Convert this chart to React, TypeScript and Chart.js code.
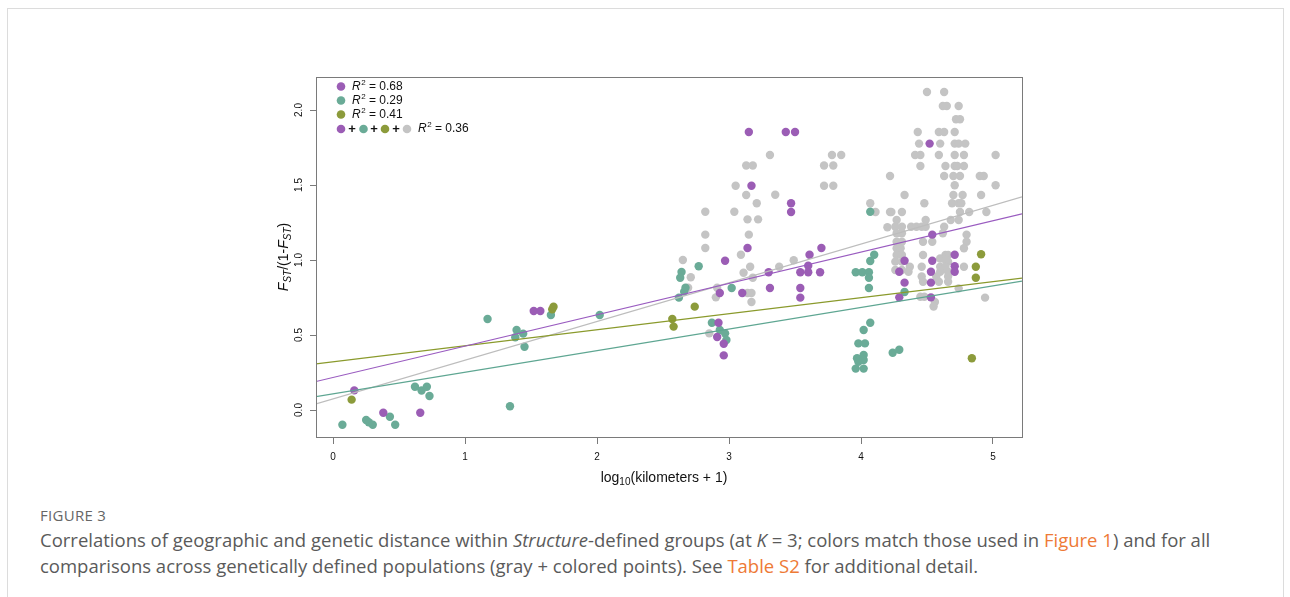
import React, { useEffect, useRef } from "react";
import { Chart, registerables } from "chart.js";
Chart.register(...registerables);

// ---- axis ranges & ticks ----
const xTicks = [0, 1, 2, 3, 4, 5];
const yTicks = [0, 0.5, 1, 1.5, 2];
const xRange = [-0.13, 5.22];
const yRange = [-0.18, 2.22];

// ---- regression lines: [intercept, slope] ----
const purpleFit = [0.217, 0.209];
const tealFit = [0.108, 0.144];
const oliveFit = [0.321, 0.107];
const grayFit = [0.074, 0.258];

// ---- legend ----
const legendLabels = ["0.68", "0.29", "0.41", "0.36"];

// ---- points [x, y] ----
const purplePoints: [number, number][] = [
  [0.16, 0.131], [0.38, -0.018], [0.66, -0.018], [1.52, 0.66], [1.57, 0.66],
  [3.15, 1.853], [3.43, 1.853], [3.5, 1.853], [3.17, 1.495], [3.47, 1.378], [3.47, 1.32],
  [3.14, 1.08], [3.7, 1.08], [2.97, 0.995], [3.61, 1.035], [3.6, 0.962],
  [3.3, 0.918], [3.54, 0.918], [3.6, 0.918], [3.69, 0.918],
  [2.93, 0.78], [3.1, 0.78], [3.31, 0.813], [3.54, 0.813], [3.54, 0.749],
  [2.92, 0.582], [2.91, 0.487], [2.96, 0.442], [2.96, 0.364],
  [4.52, 1.776], [4.54, 1.169], [4.71, 1.035], [4.33, 0.995], [4.54, 0.995], [4.71, 0.958],
  [4.29, 0.922], [4.53, 0.922], [4.71, 0.922], [4.33, 0.849], [4.53, 0.849], [4.29, 0.751], [4.53, 0.751],
];

const tealPoints: [number, number][] = [
  [0.07, -0.098], [0.25, -0.067], [0.27, -0.082], [0.3, -0.098], [0.43, -0.045], [0.47, -0.098],
  [0.62, 0.155], [0.67, 0.13], [0.71, 0.155], [0.73, 0.093],
  [1.17, 0.607], [1.34, 0.025], [1.39, 0.533], [1.38, 0.485], [1.44, 0.509], [1.45, 0.422], [1.65, 0.633], [2.02, 0.633],
  [2.77, 0.958], [2.64, 0.92], [2.63, 0.882], [2.67, 0.815], [2.66, 0.789], [2.62, 0.749], [3.02, 0.813],
  [2.87, 0.582], [2.93, 0.533], [2.97, 0.511], [2.98, 0.467],
  [4.07, 1.322], [4.1, 1.035], [4.07, 0.993], [3.96, 0.918], [4.01, 0.918], [4.06, 0.918], [4.06, 0.882], [4.06, 0.813],
  [4.07, 0.582], [4.02, 0.533], [3.98, 0.444], [4.03, 0.444],
  [3.97, 0.345], [4.02, 0.367], [3.98, 0.322], [4.02, 0.333], [3.96, 0.276], [4.02, 0.276],
  [4.24, 0.382], [4.29, 0.402], [4.33, 0.787],
];

const olivePoints: [number, number][] = [
  [0.14, 0.069], [1.66, 0.671], [1.67, 0.689], [2.57, 0.607], [2.58, 0.556], [2.74, 0.689],
  [4.91, 1.038], [4.87, 0.955], [4.87, 0.882], [4.84, 0.345],
];

const grayPoints: [number, number][] = [
  [2.65, 1.0], [2.71, 0.885], [2.69, 0.815], [2.9, 0.751], [2.91, 0.815], [2.85, 0.511],
  [2.82, 1.322], [2.82, 1.169], [2.82, 1.08],
  [3.04, 1.322], [3.05, 1.495], [3.13, 1.63], [3.18, 1.63], [3.13, 1.433], [3.21, 1.378], [3.35, 1.435], [3.31, 1.7],
  [3.14, 1.271], [3.22, 1.271], [3.15, 1.169], [3.09, 1.035], [3.16, 0.955], [3.11, 0.915], [3.18, 0.882],
  [3.14, 0.78], [3.17, 0.78], [3.17, 0.72], [3.38, 0.955], [3.49, 0.998],
  [3.78, 1.7], [3.85, 1.7], [3.72, 1.63], [3.79, 1.63], [3.72, 1.495], [3.79, 1.495],
  [4.22, 1.56], [4.22, 1.32], [4.2, 1.218], [4.11, 1.32], [4.07, 1.378],
  [4.5, 2.12], [4.63, 2.12],
  [4.62, 2.027], [4.65, 2.027], [4.74, 2.027],
  [4.72, 1.938], [4.75, 1.938],
  [4.43, 1.853], [4.59, 1.853], [4.63, 1.853], [4.71, 1.853],
  [4.44, 1.776], [4.6, 1.776], [4.71, 1.776], [4.74, 1.776], [4.79, 1.776],
  [4.41, 1.7], [4.45, 1.7], [4.59, 1.7], [4.71, 1.7], [4.78, 1.7], [5.02, 1.7],
  [4.45, 1.627], [4.64, 1.627], [4.71, 1.627], [4.73, 1.627], [4.78, 1.627],
  [4.63, 1.56], [4.7, 1.56], [4.75, 1.56], [4.9, 1.56], [4.93, 1.56],
  [4.71, 1.498], [5.02, 1.498],
  [4.33, 1.433], [4.7, 1.433], [4.77, 1.433], [4.91, 1.433],
  [4.48, 1.378], [4.69, 1.378], [4.74, 1.378], [4.76, 1.378],
  [4.23, 1.32], [4.31, 1.32], [4.75, 1.32], [4.82, 1.32], [4.95, 1.32],
  [4.27, 1.267], [4.49, 1.267], [4.68, 1.267], [4.74, 1.267],
  [4.26, 1.222], [4.31, 1.222], [4.38, 1.222], [4.42, 1.222], [4.46, 1.222], [4.49, 1.222], [4.63, 1.222],
  [4.27, 1.178], [4.31, 1.178], [4.62, 1.178], [4.8, 1.169],
  [4.27, 1.122], [4.31, 1.122], [4.47, 1.122], [4.54, 1.122], [4.8, 1.122],
  [4.27, 1.078], [4.3, 1.078], [4.78, 1.078],
  [4.27, 1.033], [4.31, 1.033], [4.47, 1.033], [4.64, 1.033], [4.66, 1.033],
  [4.26, 0.989], [4.31, 0.989], [4.6, 1.01], [4.64, 1.0], [4.66, 0.989],
  [4.37, 0.955], [4.46, 0.955], [4.6, 0.955], [4.64, 0.955], [4.78, 0.955],
  [4.26, 0.933], [4.31, 0.933], [4.36, 0.922], [4.6, 0.922], [4.66, 0.922],
  [4.46, 0.89], [4.57, 0.89], [4.66, 0.89],
  [4.47, 0.855], [4.59, 0.855], [4.66, 0.855],
  [4.74, 0.811],
  [4.45, 0.755], [4.48, 0.755], [4.56, 0.72], [4.55, 0.69], [4.94, 0.749],
];

const PURPLE = "#9b5db5";
const TEAL = "#6aab97";
const OLIVE = "#8c9b3b";
const GRAY = "#c4c4c4";
const PURPLE_LINE = "#9a5cc0";
const TEAL_LINE = "#5ea692";
const OLIVE_LINE = "#8a9a2c";
const GRAY_LINE = "#bdbdbd";

const FONT = "'Liberation Sans', Arial, Helvetica, sans-serif";

const toXY = (pts: [number, number][]) => pts.map(([x, y]) => ({ x, y }));
const fitLine = (f: number[]) => [
  { x: xRange[0], y: f[0] + f[1] * xRange[0] },
  { x: xRange[1], y: f[0] + f[1] * xRange[1] },
];

const decorPlugin = {
  id: "decor",
  afterDraw(chart: any) {
    const ctx = chart.ctx as CanvasRenderingContext2D;
    const a = chart.chartArea;
    ctx.save();
    // box
    ctx.strokeStyle = "#7a7a7a";
    ctx.lineWidth = 1;
    ctx.strokeRect(Math.round(a.left) + 0.5, Math.round(a.top) + 0.5, Math.round(a.right - a.left), Math.round(a.bottom - a.top));

    // x title
    ctx.fillStyle = "#111";
    ctx.textBaseline = "alphabetic";
    const xt1 = "log";
    const xtSub = "10";
    const xt2 = "(kilometers + 1)";
    ctx.font = `14px ${FONT}`;
    const w1 = ctx.measureText(xt1).width;
    const w3 = ctx.measureText(xt2).width;
    ctx.font = `10px ${FONT}`;
    const w2 = ctx.measureText(xtSub).width;
    const total = w1 + w2 + w3;
    const cx = (a.left + a.right) / 2 - 5;
    let x0 = cx - total / 2;
    const by = a.bottom + 45;
    ctx.font = `14px ${FONT}`;
    ctx.textAlign = "left";
    ctx.fillText(xt1, x0, by);
    ctx.font = `10px ${FONT}`;
    ctx.fillText(xtSub, x0 + w1, by + 3);
    ctx.font = `14px ${FONT}`;
    ctx.fillText(xt2, x0 + w1 + w2, by);

    // y title (rotated)
    const parts: [string, string][] = [
      ["F", "i"], ["ST", "si"], ["/(1-", "n"], ["F", "i"], ["ST", "si"], [")", "n"],
    ];
    const fontFor = (k: string) =>
      k === "i" ? `italic 14px ${FONT}` : k === "si" ? `italic 10px ${FONT}` : `14px ${FONT}`;
    let tw = 0;
    const widths = parts.map(([t, k]) => {
      ctx.font = fontFor(k);
      const w = ctx.measureText(t).width;
      tw += w;
      return w;
    });
    ctx.save();
    ctx.translate(a.left - 28, (a.top + a.bottom) / 2);
    ctx.rotate(-Math.PI / 2);
    let px = -tw / 2;
    parts.forEach(([t, k], i) => {
      ctx.font = fontFor(k);
      ctx.fillText(t, px, k === "si" ? 3 : 0);
      px += widths[i];
    });
    ctx.restore();

    // legend
    const lx = a.left + 25;
    const rows = [a.top + 9.5, a.top + 23.5, a.top + 37.5, a.top + 52];
    const dot = (x: number, y: number, c: string) => {
      ctx.beginPath();
      ctx.arc(x, y, 4.3, 0, Math.PI * 2);
      ctx.fillStyle = c;
      ctx.fill();
    };
    const r2 = (x: number, y: number, val: string) => {
      ctx.fillStyle = "#111";
      ctx.textBaseline = "middle";
      ctx.font = `italic 12px ${FONT}`;
      ctx.fillText("R", x, y);
      const wr = ctx.measureText("R").width;
      ctx.font = `8px ${FONT}`;
      ctx.fillText("2", x + wr + 0.5, y - 4);
      const w2b = ctx.measureText("2").width;
      ctx.font = `12px ${FONT}`;
      ctx.fillText(" = " + val, x + wr + w2b + 0.5, y);
    };
    const cols = [PURPLE, TEAL, OLIVE];
    for (let i = 0; i < 3; i++) {
      dot(lx, rows[i], cols[i]);
      r2(lx + 11, rows[i], legendLabels[i]);
    }
    const r4 = rows[3];
    const dotXs = [lx, lx + 22.5, lx + 44, lx + 66];
    const cols4 = [PURPLE, TEAL, OLIVE, GRAY];
    dotXs.forEach((x, i) => dot(x, r4, cols4[i]));
    ctx.fillStyle = "#111";
    ctx.font = `bold 13px ${FONT}`;
    ctx.textAlign = "center";
    ctx.textBaseline = "middle";
    [lx + 11, lx + 33, lx + 55].forEach((x) => ctx.fillText("+", x, r4 + 0.5));
    ctx.textAlign = "left";
    r2(lx + 77, r4, legendLabels[3]);
    ctx.restore();
  },
};

export default function App() {
  const ref = useRef<HTMLCanvasElement | null>(null);
  useEffect(() => {
    if (!ref.current) return;
    const lineDs = (data: any, color: string) => ({
      type: "line" as const,
      data,
      borderColor: color,
      borderWidth: 1.2,
      pointRadius: 0,
      fill: false,
      order: 0,
      showLine: true,
    });
    const ptDs = (pts: [number, number][], color: string, order: number) => ({
      type: "scatter" as const,
      data: toXY(pts),
      backgroundColor: color,
      borderWidth: 0,
      pointRadius: 4.2,
      pointHoverRadius: 4.2,
      order,
    });
    const chart = new Chart(ref.current, {
      type: "scatter",
      data: {
        datasets: [
          lineDs(fitLine(purpleFit), PURPLE_LINE),
          lineDs(fitLine(tealFit), TEAL_LINE),
          lineDs(fitLine(oliveFit), OLIVE_LINE),
          lineDs(fitLine(grayFit), GRAY_LINE),
          ptDs(purplePoints, PURPLE, 1),
          ptDs(olivePoints, OLIVE, 2),
          ptDs(tealPoints, TEAL, 3),
          ptDs(grayPoints, GRAY, 4),
        ] as any,
      },
      options: {
        animation: false,
        responsive: false,
        devicePixelRatio: 1,
        events: [],
        layout: { padding: { left: 276, top: 77, right: 268, bottom: 23 } },
        plugins: { legend: { display: false }, tooltip: { enabled: false } },
        scales: {
          x: {
            type: "linear",
            min: xRange[0],
            max: xRange[1],
            afterBuildTicks: (s: any) => {
              s.ticks = xTicks.map((v) => ({ value: v }));
            },
            afterFit: (s: any) => {
              s.height = 30;
            },
            grid: { display: true, drawOnChartArea: false, drawTicks: true, tickLength: 7, color: "#7a7a7a" },
            border: { display: false },
            ticks: {
              padding: 7,
              autoSkip: false,
              maxRotation: 0,
              color: "#111",
              font: { family: FONT, size: 10 },
              callback: (v: any) => String(v),
            },
          },
          y: {
            type: "linear",
            min: yRange[0],
            max: yRange[1],
            afterBuildTicks: (s: any) => {
              s.ticks = yTicks.map((v) => ({ value: v }));
            },
            afterFit: (s: any) => {
              s.width = 40;
            },
            grid: { display: true, drawOnChartArea: false, drawTicks: true, tickLength: 6, color: "#7a7a7a" },
            border: { display: false },
            ticks: {
              padding: 4,
              autoSkip: false,
              minRotation: 90,
              maxRotation: 90,
              crossAlign: "center",
              color: "#111",
              font: { family: FONT, size: 10 },
              callback: (v: any) => Number(v).toFixed(1),
            },
          },
        },
      },
      plugins: [decorPlugin],
    });
    return () => chart.destroy();
  }, []);

  const caption: React.CSSProperties = {
    position: "absolute",
    left: 40,
    fontFamily: "'Open Sans', 'Noto Sans', sans-serif",
    color: "#5a5a5a",
    whiteSpace: "nowrap",
  };
  const link: React.CSSProperties = { color: "#ee7a36" };

  return (
    <div style={{ position: "absolute", left: 0, top: 0, width: 1290, height: 597, overflow: "hidden", background: "#fff" }}>
      <div style={{ position: "absolute", left: 7, top: 8, width: 1275, height: 700, border: "1px solid #dcdcdc" }} />
      <canvas ref={ref} width={1290} height={490} style={{ position: "absolute", left: 0, top: 0, width: 1290, height: 490 }} />
      <div style={{ ...caption, top: 505, fontSize: 15, fontWeight: 400, letterSpacing: 0.3, lineHeight: "20px", color: "#666" }}>FIGURE 3</div>
      <div style={{ ...caption, top: 527, fontSize: 18.5, lineHeight: "26px" }}>
        Correlations of geographic and genetic distance within <i>Structure</i>-defined groups (at <i>K</i> = 3; colors match those used in{" "}
        <span style={link}>Figure 1</span>) and for all
        <br />
        comparisons across genetically defined populations (gray + colored points). See <span style={link}>Table S2</span> for additional detail.
      </div>
    </div>
  );
}
